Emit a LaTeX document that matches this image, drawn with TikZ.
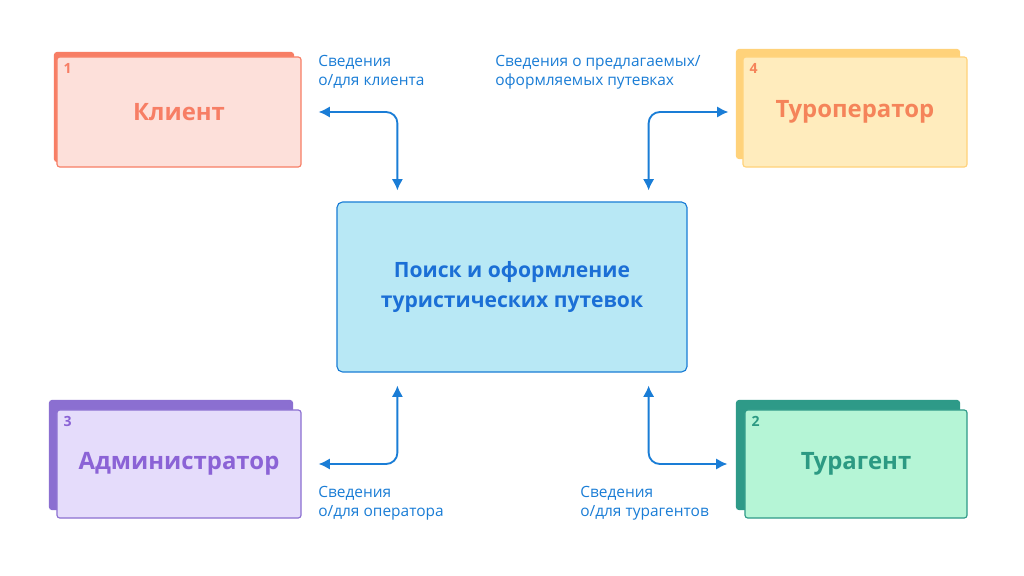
\documentclass[tikz,border=0pt]{standalone}
\usepackage{fontspec}
\setmainfont{Open Sans}
\usetikzlibrary{arrows.meta, calc, positioning}
\definecolor{klLine}{HTML}{F77E65}\definecolor{klFill}{HTML}{FDE0DA}
\definecolor{toLine}{HTML}{FFD27A}\definecolor{toFill}{HTML}{FFECBD}\definecolor{toText}{HTML}{F5845A}
\definecolor{adLine}{HTML}{8B6FD1}\definecolor{adFill}{HTML}{E5DCFB}\definecolor{adText}{HTML}{8B63D6}
\definecolor{taLine}{HTML}{2E9A88}\definecolor{taFill}{HTML}{B5F5D6}\definecolor{taText}{HTML}{2C9A83}
\definecolor{ctLine}{HTML}{1A7DD6}\definecolor{ctFill}{HTML}{B8E8F5}\definecolor{ctText}{HTML}{1B6FD6}
\begin{document}
\begin{tikzpicture}[x=0.025cm, y=-0.025cm]

  \tikzstyle{back} = [rectangle,rounded corners=2pt,minimum width=6cm,minimum height=2.75cm,inner sep=0pt];
  \tikzstyle{front} = [rectangle,rounded corners=2pt,thick,minimum width=6.1cm,minimum height=2.75cm,font={\fontsize{17}{20}\selectfont\bfseries}];
  \tikzstyle{num} = [font={\fontsize{10}{12}\selectfont\bfseries},anchor=north west,inner sep=5pt];
  \tikzstyle{label} = [font={\fontsize{11}{13.5}\selectfont},text=ctLine,anchor=north west,align=left,inner sep=0pt];
  \tikzstyle{link} = [{Latex[length=8pt,width=8pt]}-{Latex[length=8pt,width=8pt]},line width=1.3pt,draw=ctLine,rounded corners=8pt];

  \useasboundingbox[fill=white] (0,0) rectangle (1024,576);

  % Клиент
  \node [back,fill=klLine]                      (client-back) at (174,107) {};
  \node [front,draw=klLine,fill=klFill,text=klLine] (client) at (179,112) {Клиент};
  \node [num,text=klLine] at (client.north west) {1};

  % Туроператор
  \node [back,fill=toLine,minimum width=5.6cm]  (tour-back) at (848,104) {};
  \node [front,draw=toLine,fill=toFill,text=toText,minimum width=5.6cm] (tour) at (855,112) {Туроператор};
  \node [num,text=toText] at (tour.north west) {4};

  % Администратор
  \node [back,fill=adLine,minimum width=6.1cm]  (admin-back) at (171,455) {};
  \node [front,draw=adLine,fill=adFill,text=adText,minimum width=6.1cm,minimum height=2.7cm] (admin) at (179,464) {Администратор};
  \node [num,text=adText] at (admin.north west) {3};

  % Турагент
  \node [back,fill=taLine,minimum width=5.6cm]  (agent-back) at (848,455) {};
  \node [front,draw=taLine,fill=taFill,text=taText,minimum width=5.55cm,minimum height=2.7cm] (agent) at (856,464) {Турагент};
  \node [num,text=taText] at (agent.north west) {2};

  % центр
  \node [rectangle,rounded corners=4pt,thick,draw=ctLine,fill=ctFill,text=ctText,minimum width=8.75cm,minimum height=4.25cm,align=center,font={\fontsize{15}{22}\selectfont\bfseries}] (center) at (512,287) {Поиск и оформление\\туристических путевок};

  \draw[link] ($(client.east)+(17,0)$) -| ($(center.north west)+(61,-11)$);
  \draw[link] ($(tour.west)+(-14,0)$) -| ($(center.north east)+(-39,-11)$);
  \draw[link] ($(center.south west)+(61,13)$) |- ($(admin.east)+(17,0)$);
  \draw[link] ($(center.south east)+(-39,13)$) |- ($(agent.west)+(-17,0)$);

  \node [label] (client-info) at (318,55) {Сведения\\о/для клиента};
  \node [label] (tour-info)   at (495,55) {Сведения о предлагаемых/\\оформляемых путевках};
  \node [label] (admin-info)  at (318,486) {Сведения\\о/для оператора};
  \node [label] (agent-info)  at (580,486) {Сведения\\о/для турагентов};

\end{tikzpicture}
\end{document}
